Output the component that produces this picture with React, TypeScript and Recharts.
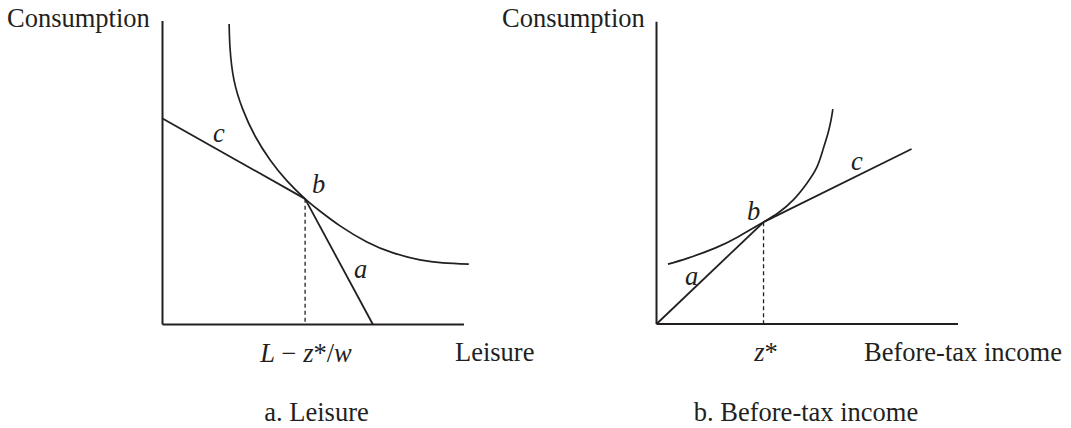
import React from 'react';
import { LineChart, Line, XAxis, YAxis, ReferenceLine } from 'recharts';

// Panel a: leisure / consumption (units: axis length = 100)
const leisureBudgetC = [
  { x: 0, y: 67.9 },
  { x: 47.3, y: 41.4 },
];
const leisureBudgetA = [
  { x: 47.3, y: 41.4 },
  { x: 69.8, y: 0 },
];
const leisureDrop = [
  { x: 47.3, y: 41.4 },
  { x: 47.3, y: 0 },
];
const leisureIndifference = [
  { x: 22.1, y: 99.0 },
  { x: 22.4, y: 91.1 },
  { x: 23.7, y: 80.6 },
  { x: 26.7, y: 70.7 },
  { x: 30.7, y: 62.1 },
  { x: 35.7, y: 54.2 },
  { x: 41.3, y: 47.3 },
  { x: 47.3, y: 41.4 },
  { x: 52.2, y: 37.4 },
  { x: 58.9, y: 32.5 },
  { x: 67.8, y: 27.2 },
  { x: 76.5, y: 23.6 },
  { x: 85.4, y: 21.3 },
  { x: 93.0, y: 20.3 },
  { x: 101.6, y: 19.9 },
];

// Panel b: before-tax income / consumption
const incomeBudgetA = [
  { x: 0, y: 0 },
  { x: 35.5, y: 33.7 },
];
const incomeBudgetC = [
  { x: 35.5, y: 33.7 },
  { x: 84.6, y: 57.9 },
];
const incomeDrop = [
  { x: 35.5, y: 33.7 },
  { x: 35.5, y: 0 },
];
const incomeIndifference = [
  { x: 3.8, y: 19.8 },
  { x: 10.4, y: 21.8 },
  { x: 19.4, y: 25.1 },
  { x: 27.0, y: 28.8 },
  { x: 35.5, y: 33.7 },
  { x: 40.3, y: 36.7 },
  { x: 45.3, y: 41.0 },
  { x: 49.9, y: 46.6 },
  { x: 53.2, y: 51.9 },
  { x: 55.2, y: 57.6 },
  { x: 56.9, y: 63.2 },
  { x: 57.9, y: 67.5 },
  { x: 58.5, y: 71.1 },
];

const INK = '#231f20';
const FONT = "'Liberation Serif', 'Times New Roman', serif";

function Seg({ data, dashed, curve }: { data: { x: number; y: number }[]; dashed?: boolean; curve?: boolean }) {
  return (
    <Line
      data={data}
      dataKey="y"
      type={curve ? 'natural' : 'linear'}
      stroke={INK}
      strokeWidth={dashed ? 1.3 : curve ? 1.7 : 1.8}
      strokeDasharray={dashed ? '4 3' : undefined}
      dot={false}
      activeDot={false}
      isAnimationActive={false}
    />
  );
}

function Axes({ xEnd }: { xEnd: number }) {
  return (
    <>
      <ReferenceLine segment={[{ x: 0, y: 0 }, { x: 0, y: 100 }]} stroke={INK} strokeWidth={2} ifOverflow="visible" />
      <ReferenceLine segment={[{ x: 0, y: 0 }, { x: xEnd, y: 0 }]} stroke={INK} strokeWidth={2} ifOverflow="visible" />
    </>
  );
}

export default function App() {
  const it = { fontStyle: 'italic' as const };
  return (
    <div style={{ position: 'absolute', left: 0, top: 0, width: 1071, height: 428, background: '#fff' }}>
      <div style={{ position: 'absolute', left: 0, top: 0 }}>
        <LineChart width={480} height={428} margin={{ top: 21, left: 162.5, right: 10, bottom: 103.5 }}>
          <XAxis type="number" dataKey="x" domain={[0, 102]} hide />
          <YAxis type="number" domain={[0, 100]} hide />
          {Axes({ xEnd: 100 })}
          {Seg({ data: leisureDrop, dashed: true })}
          {Seg({ data: leisureBudgetC })}
          {Seg({ data: leisureBudgetA })}
          {Seg({ data: leisureIndifference, curve: true })}
        </LineChart>
      </div>
      <div style={{ position: 'absolute', left: 500, top: 0 }}>
        <LineChart width={571} height={428} margin={{ top: 21.7, left: 156.5, right: 113, bottom: 104 }}>
          <XAxis type="number" dataKey="x" domain={[0, 100]} hide />
          <YAxis type="number" domain={[0, 100]} hide />
          {Axes({ xEnd: 100 })}
          {Seg({ data: incomeDrop, dashed: true })}
          {Seg({ data: incomeBudgetA })}
          {Seg({ data: incomeBudgetC })}
          {Seg({ data: incomeIndifference, curve: true })}
        </LineChart>
      </div>
      <svg
        width={1071}
        height={428}
        style={{ position: 'absolute', left: 0, top: 0, pointerEvents: 'none' }}
        fontFamily={FONT}
        fontSize={26.5}
        fill={INK}
      >
        {/* panel a */}
        <text x={7} y={27}>Consumption</text>
        <text x={213} y={142} style={it}>c</text>
        <text x={312} y={193} style={it}>b</text>
        <text x={354} y={278} style={it}>a</text>
        <text x={306} y={362} textAnchor="middle">
          <tspan style={it}>L</tspan> − <tspan style={it}>z</tspan>*/<tspan style={it}>w</tspan>
        </text>
        <text x={455} y={361}>Leisure</text>
        <text x={316.5} y={421} textAnchor="middle">a. Leisure</text>

        {/* panel b */}
        <text x={502} y={27}>Consumption</text>
        <text x={685} y={285} style={it}>a</text>
        <text x={747} y={220} style={it}>b</text>
        <text x={851} y={170} style={it}>c</text>
        <text x={766} y={361} textAnchor="middle">
          <tspan style={it}>z</tspan>*
        </text>
        <text x={864} y={361}>Before-tax income</text>
        <text x={806} y={421} textAnchor="middle">b. Before-tax income</text>
      </svg>
    </div>
  );
}
